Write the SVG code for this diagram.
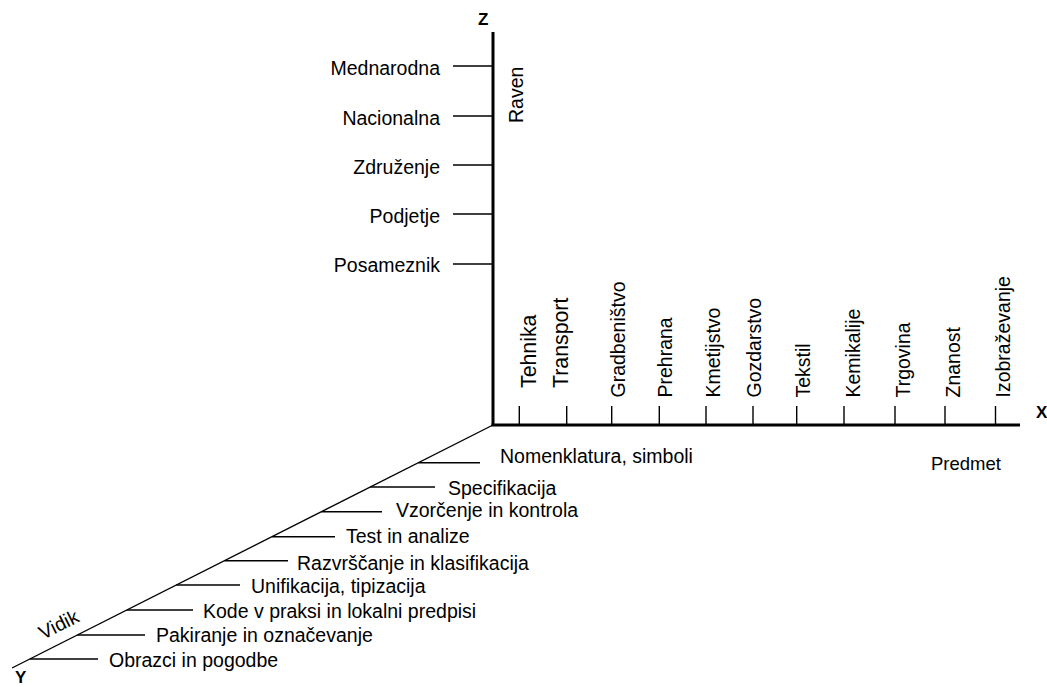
<svg xmlns="http://www.w3.org/2000/svg" width="1047" height="687" viewBox="0 0 1047 687">
<style>
text{font-family:"Liberation Sans",Arial,sans-serif;font-size:19.5px;fill:#000}
.ax{font-weight:bold;font-size:17px}
.big{font-size:21.3px}
.main{stroke:#000;stroke-width:3;fill:none}
.thin{stroke:#000;stroke-width:1.4;fill:none}
</style>
<rect width="1047" height="687" fill="#fff"/>
<g id="axes">
<line class="main" x1="493" y1="32" x2="493" y2="426"/>
<line class="main" x1="491.5" y1="425" x2="1020" y2="425"/>
<line class="thin" x1="493" y1="425" x2="12" y2="668"/>
<text class="ax" x="478" y="25">Z</text>
<text class="ax" x="1036" y="418">X</text>
<text class="ax" x="15" y="683">Y</text>
<text transform="translate(523,123) rotate(-90)">Raven</text>
<text x="931" y="470" style="font-size:18.5px">Predmet</text>
<text transform="translate(43,640) rotate(-26.8)">Vidik</text>
</g>
<g id="z-ticks">
<g id="z-mednarodna"><line class="thin" x1="453" y1="66" x2="493" y2="66"/><text x="440" y="75" text-anchor="end">Mednarodna</text></g>
<g id="z-nacionalna"><line class="thin" x1="453" y1="116" x2="493" y2="116"/><text x="440" y="125" text-anchor="end">Nacionalna</text></g>
<g id="z-zdruzenje"><line class="thin" x1="453" y1="165" x2="493" y2="165"/><text x="440" y="174" text-anchor="end">Združenje</text></g>
<g id="z-podjetje"><line class="thin" x1="453" y1="214" x2="493" y2="214"/><text x="440" y="223" text-anchor="end">Podjetje</text></g>
<g id="z-posameznik"><line class="thin" x1="453" y1="264" x2="493" y2="264"/><text x="440" y="272" text-anchor="end">Posameznik</text></g>
</g>
<g id="x-ticks">
<g id="x-tehnika"><line class="thin" x1="519.3" y1="406" x2="519.3" y2="425"/><text class="big" transform="translate(535.5,388) rotate(-90)">Tehnika</text></g>
<g id="x-transport"><line class="thin" x1="566.7" y1="406" x2="566.7" y2="425"/><text class="big" transform="translate(567.5,388) rotate(-90)">Transport</text></g>
<g id="x-gradbenistvo"><line class="thin" x1="611.7" y1="406" x2="611.7" y2="425"/><text transform="translate(625,397.5) rotate(-90)">Gradbeništvo</text></g>
<g id="x-prehrana"><line class="thin" x1="659.3" y1="406" x2="659.3" y2="425"/><text transform="translate(671.5,397.5) rotate(-90)">Prehrana</text></g>
<g id="x-kmetijstvo"><line class="thin" x1="706" y1="406" x2="706" y2="425"/><text transform="translate(719.5,397.5) rotate(-90)">Kmetijstvo</text></g>
<g id="x-gozdarstvo"><line class="thin" x1="753" y1="406" x2="753" y2="425"/><text transform="translate(760.5,397.5) rotate(-90)">Gozdarstvo</text></g>
<g id="x-tekstil"><line class="thin" x1="796.7" y1="406" x2="796.7" y2="425"/><text transform="translate(810,397.5) rotate(-90)">Tekstil</text></g>
<g id="x-kemikalije"><line class="thin" x1="844" y1="406" x2="844" y2="425"/><text transform="translate(860,397.5) rotate(-90)">Kemikalije</text></g>
<g id="x-trgovina"><line class="thin" x1="895" y1="406" x2="895" y2="425"/><text transform="translate(910,397.5) rotate(-90)">Trgovina</text></g>
<g id="x-znanost"><line class="thin" x1="945" y1="406" x2="945" y2="425"/><text transform="translate(960,397.5) rotate(-90)">Znanost</text></g>
<g id="x-izobrazevanje"><line class="thin" x1="995.5" y1="406" x2="995.5" y2="425"/><text transform="translate(1009.5,397.5) rotate(-90)">Izobraževanje</text></g>
</g>
<g id="y-ticks">
<g id="y-nomenklatura"><line class="thin" x1="418.4" y1="462.7" x2="480" y2="462.7"/><text x="500" y="463">Nomenklatura, simboli</text></g>
<g id="y-specifikacija"><line class="thin" x1="370.3" y1="487" x2="435" y2="487"/><text x="448" y="495">Specifikacija</text></g>
<g id="y-vzorcenje"><line class="thin" x1="321.4" y1="511.7" x2="382" y2="511.7"/><text x="396" y="517">Vzorčenje in kontrola</text></g>
<g id="y-test"><line class="thin" x1="271.9" y1="536.7" x2="335" y2="536.7"/><text x="346" y="543">Test in analize</text></g>
<g id="y-razvrscanje"><line class="thin" x1="224.4" y1="560.7" x2="288" y2="560.7"/><text x="297" y="570">Razvrščanje in klasifikacija</text></g>
<g id="y-unifikacija"><line class="thin" x1="176.3" y1="585" x2="240" y2="585"/><text x="251" y="593">Unifikacija, tipizacija</text></g>
<g id="y-kode"><line class="thin" x1="126.8" y1="610" x2="193" y2="610"/><text x="203" y="618">Kode v praksi in lokalni predpisi</text></g>
<g id="y-pakiranje"><line class="thin" x1="77.3" y1="635" x2="145" y2="635"/><text x="156" y="642">Pakiranje in označevanje</text></g>
<g id="y-obrazci"><line class="thin" x1="29.8" y1="659" x2="98" y2="659"/><text x="109" y="666.5">Obrazci in pogodbe</text></g>
</g>
</svg>
